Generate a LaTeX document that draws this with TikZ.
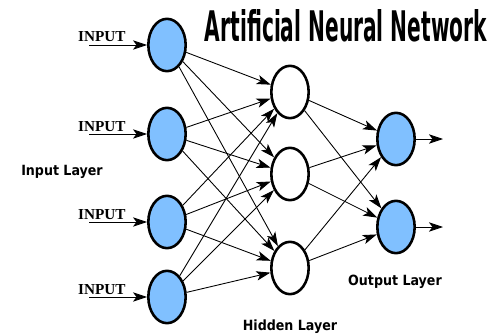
\documentclass[tikz,border=0pt]{standalone}
\usepackage{graphicx}
\usepackage{fontspec}
\setmainfont{DejaVu Sans}
\newfontfamily\condfont{DejaVu Sans Condensed}
\newfontfamily\inputfont{Liberation Serif}
\usetikzlibrary{shapes.geometric,arrows.meta,positioning}
\definecolor{neuronblue}{RGB}{128,192,255}

\begin{document}
\begin{tikzpicture}[x=0.03cm, y=-0.03cm,
    neuron/.style={ellipse, draw, line width=2.2pt, inner sep=0pt,
        minimum width=1.12cm, minimum height=1.57cm},
    link/.style={line width=0.75pt, -{Stealth[length=12pt, width=8pt, inset=3pt]}},
    inlabel/.style={font=\inputfont\bfseries\fontsize{13}{13}\selectfont, inner sep=0pt},
    layerlabel/.style={font=\condfont\bfseries\fontsize{12}{12}\selectfont, inner sep=0pt}]
    \useasboundingbox[fill=white] (0,0) rectangle (494,336);

    % Title
    \node[inner sep=0pt] (title) at (346,26)
        {\resizebox{8.46cm}{0.96cm}{\condfont\bfseries Artificial Neural Network}};

    % Input layer
    \foreach \i/\y in {1/45,2/134,3/222,4/297} {
        \node[neuron, fill=neuronblue] (in\i) at (167,\y) {};
        \node[inlabel, anchor=base west] (lbl\i) at (78,\y-3) {INPUT};
        \coordinate (src\i) at (89,\y);
        \draw[link] (src\i) -- (in\i.west);
    }

    % Hidden layer
    \foreach \j/\y in {1/92,2/174,3/268}
        \node[neuron, fill=white] (hid\j) at (290,\y) {};

    % Output layer
    \foreach \k/\y in {1/139,2/227} {
        \node[neuron, fill=neuronblue] (out\k) at (396,\y) {};
        \coordinate (dst\k) at (443,\y);
        \draw[link] (out\k) -- (dst\k);
    }

    % Connections
    \foreach \i in {1,...,4}
        \foreach \j in {1,2,3}
            \draw[link] (in\i) -- (hid\j);
    \foreach \j in {1,2,3}
        \foreach \k in {1,2}
            \draw[link] (hid\j) -- (out\k);

    % Layer names
    \node[layerlabel, anchor=base] (inlayer) at (62,175) {Input Layer};
    \node[layerlabel, anchor=base] (hidlayer) at (290,330) {Hidden Layer};
    \node[layerlabel, anchor=base] (outlayer) at (395,285) {Output Layer};
\end{tikzpicture}
\end{document}
